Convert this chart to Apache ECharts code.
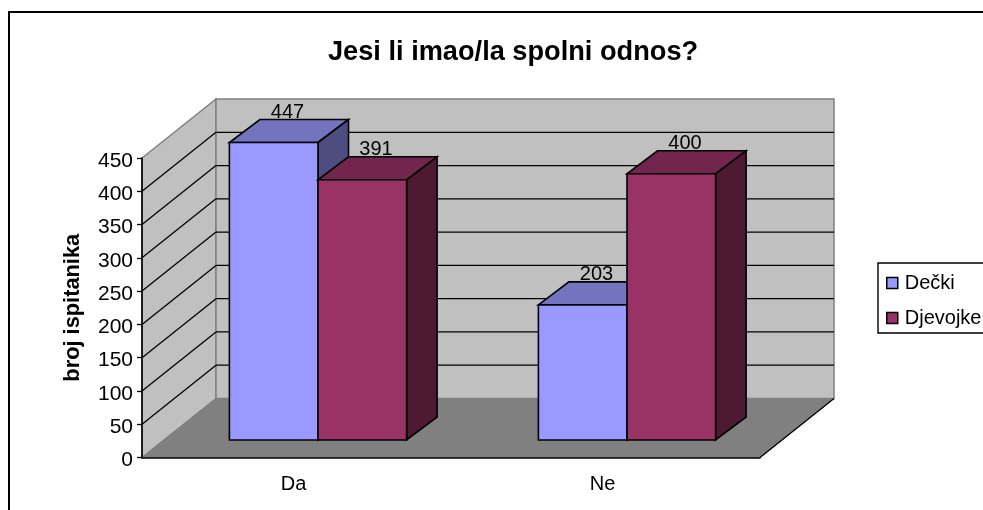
<!DOCTYPE html>
<html><head><meta charset="utf-8">
<style>html,body{margin:0;padding:0;background:#fff}#c{width:983px;height:510px}</style>
<script src="https://cdn.jsdelivr.net/npm/echarts@6/dist/echarts.min.js"></script>
</head><body><div id="c"></div>
<script>
const categories = ['Da', 'Ne'];
const decki = [447, 203];
const djevojke = [391, 400];
const yTicks = [0, 50, 100, 150, 200, 250, 300, 350, 400, 450];
const titleText = 'Jesi li imao/la spolni odnos?';
const yName = 'broj ispitanika';

const FONT = '"Liberation Sans", Arial, sans-serif';
const DEPTH = [74, -59];
const BAR_OFF = [21.5, -17.5];
const BAR_D = [30.5, -23];
const BAR_W = 88.6;

function poly(points, fill, stroke, lw) {
  return { type: 'polygon', shape: { points }, style: { fill, stroke: stroke || 'none', lineWidth: lw || 0 } };
}
function line(a, b, stroke, lw) {
  return { type: 'line', shape: { x1: a[0], y1: a[1], x2: b[0], y2: b[1] }, style: { stroke, lineWidth: lw || 1 } };
}
function wallsItem(params, api) {
  const cs = params.coordSys;
  const x0 = cs.x, x1 = cs.x + cs.width, yt = cs.y, yb = cs.y + cs.height;
  const d = (p) => [p[0] + DEPTH[0], p[1] + DEPTH[1]];
  const ch = [];
  if (params.dataIndex === 0) {
    ch.push(poly([[x0, yb], [x0, yt], d([x0, yt]), d([x0, yb])], '#C0C0C0', '#808080', 1.5));
    ch.push(poly([d([x0, yt]), d([x1, yt]), d([x1, yb]), d([x0, yb])], '#C0C0C0', '#808080', 1.5));
    ch.push(poly([[x0, yb], [x1, yb], d([x1, yb]), d([x0, yb])], '#808080', '#808080', 1));
    ch.push(line([x1, yb], d([x1, yb]), '#000', 1.3));
  } else if (params.dataIndex < yTicks.length - 1) {
    const y = api.coord([0, api.value(1)])[1];
    ch.push(line([x0, y], d([x0, y]), '#000', 1.3));
    ch.push(line(d([x0, y]), d([x1, y]), '#000', 1.3));
  }
  return { type: 'group', children: ch };
}
function barRender(colors, side) {
  return function (params, api) {
    const cat = api.value(0), val = api.value(1);
    const top = api.coord([cat, val]);
    const base = api.coord([cat, 0]);
    const l = top[0] + BAR_OFF[0] + (side < 0 ? -BAR_W : 0);
    const r = l + BAR_W;
    const t = top[1] + BAR_OFF[1], b = base[1] + BAR_OFF[1];
    const dx = BAR_D[0], dy = BAR_D[1];
    return { type: 'group', children: [
      poly([[l, t], [r, t], [r + dx, t + dy], [l + dx, t + dy]], colors[1], '#000', 1.6),
      poly([[r, t], [r + dx, t + dy], [r + dx, b + dy], [r, b]], colors[2], '#000', 1.6),
      poly([[l, t], [r, t], [r, b], [l, b]], colors[0], '#000', 1.6),
      { type: 'text', x: l + BAR_W / 2 + dx / 2 - 1.5, y: t + dy + 3,
        style: { text: String(val), fill: '#000', font: '20px ' + FONT, align: 'center', verticalAlign: 'bottom' } }
    ] };
  };
}
const C1 = ['#9999FF', '#7373BF', '#4D4D80'];
const C2 = ['#993366', '#73264D', '#4D1933'];

const chart = echarts.init(document.getElementById('c'), null, { renderer: 'canvas' });
chart.setOption({
  animation: false,
  backgroundColor: '#fff',
  title: { text: titleText, left: 328, top: 39, padding: 0,
    textStyle: { fontFamily: FONT, fontWeight: 'bold', fontSize: 27.2, color: '#000' } },
  grid: { left: 142, right: 223, top: 158, bottom: 52.5, containLabel: false },
  legend: { left: 878, top: 263, orient: 'vertical', padding: [10, 8, 5, 8], itemGap: 15,
    borderColor: '#000', borderWidth: 1.4, backgroundColor: '#fff',
    itemWidth: 11, itemHeight: 11, icon: 'rect', itemStyle: { borderColor: '#000', borderWidth: 1.5 },
    textStyle: { fontFamily: FONT, fontSize: 20, color: '#000', padding: [0, 0, 0, 2] },
    data: ['Dečki', 'Djevojke'] },
  xAxis: { type: 'category', data: categories, boundaryGap: true, z: 5,
    axisLine: { lineStyle: { color: '#000', width: 1.6 } },
    axisTick: { length: 4, lineStyle: { color: '#000', width: 1.3 }, alignWithLabel: false },
    axisLabel: { fontFamily: FONT, fontSize: 20, color: '#000', margin: 17, padding: [0, 6, 0, 0] } },
  yAxis: { type: 'value', min: 0, max: 450, interval: 50, name: yName, nameLocation: 'middle', nameGap: 58, z: 5,
    nameTextStyle: { fontFamily: FONT, fontSize: 21.8, fontWeight: 'bold', color: '#000' },
    axisLine: { show: true, lineStyle: { color: '#000', width: 1.6 } },
    axisTick: { show: true, length: 5, lineStyle: { color: '#000', width: 1.3 } },
    splitLine: { show: false },
    axisLabel: { fontFamily: FONT, fontSize: 21, color: '#000', margin: 9, verticalAlign: 'top', lineHeight: 6,
      formatter: (v) => yTicks.includes(v) ? String(v) : '' } },
  graphic: [{ type: 'polyline', silent: true, z: 100,
    shape: { points: [[9, 510], [9, 12], [983, 12]] }, style: { stroke: '#000', lineWidth: 2, fill: 'none' } }],
  series: [
    { type: 'custom', name: 'walls', renderItem: wallsItem, z: 1, silent: true, clip: false,
      data: yTicks.map((v) => [0, v]), encode: { x: 0, y: 1 } },
    { type: 'custom', name: 'Dečki', renderItem: barRender(C1, -1), z: 2, clip: false,
      itemStyle: { color: C1[0] }, data: decki.map((v, i) => [i, v]), encode: { x: 0, y: 1 } },
    { type: 'custom', name: 'Djevojke', renderItem: barRender(C2, 1), z: 3, clip: false,
      itemStyle: { color: C2[0] }, data: djevojke.map((v, i) => [i, v]), encode: { x: 0, y: 1 } }
  ]
});
</script></body></html>
